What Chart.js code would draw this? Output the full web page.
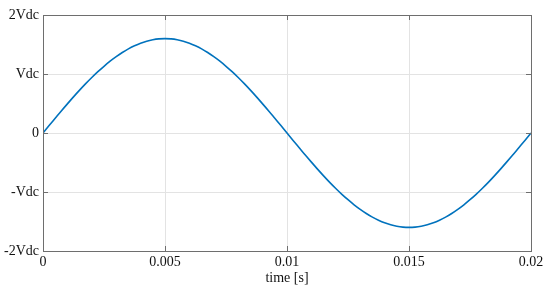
<!DOCTYPE html>
<html><head><meta charset="utf-8">
<script src="https://cdn.jsdelivr.net/npm/chart.js@4/dist/chart.umd.min.js"></script>
<style>html,body{margin:0;padding:0;background:#fff}#wrap{width:550px;height:290px}</style>
</head><body><div id="wrap"><canvas id="c" width="550" height="290"></canvas></div>
<script>
const timeValues = [0,0.00025,0.0005,0.00075,0.001,0.00125,0.0015,0.00175,0.002,0.00225,0.0025,0.00275,0.003,0.00325,0.0035,0.00375,0.004,0.00425,0.0045,0.00475,0.005,0.00525,0.0055,0.00575,0.006,0.00625,0.0065,0.00675,0.007,0.00725,0.0075,0.00775,0.008,0.00825,0.0085,0.00875,0.009,0.00925,0.0095,0.00975,0.01,0.01025,0.0105,0.01075,0.011,0.01125,0.0115,0.01175,0.012,0.01225,0.0125,0.01275,0.013,0.01325,0.0135,0.01375,0.014,0.01425,0.0145,0.01475,0.015,0.01525,0.0155,0.01575,0.016,0.01625,0.0165,0.01675,0.017,0.01725,0.0175,0.01775,0.018,0.01825,0.0185,0.01875,0.019,0.01925,0.0195,0.01975,0.02];
const voltageValues = [0,0.126,0.250,0.374,0.494,0.612,0.726,0.836,0.940,1.039,1.131,1.217,1.294,1.364,1.426,1.478,1.522,1.556,1.580,1.595,1.600,1.595,1.580,1.556,1.522,1.478,1.426,1.364,1.294,1.217,1.131,1.039,0.940,0.836,0.726,0.612,0.494,0.374,0.250,0.126,0,-0.126,-0.250,-0.374,-0.494,-0.612,-0.726,-0.836,-0.940,-1.039,-1.131,-1.217,-1.294,-1.364,-1.426,-1.478,-1.522,-1.556,-1.580,-1.595,-1.600,-1.595,-1.580,-1.556,-1.522,-1.478,-1.426,-1.364,-1.294,-1.217,-1.131,-1.039,-0.940,-0.836,-0.726,-0.612,-0.494,-0.374,-0.250,-0.126,0];
const xTickValues = [0,0.005,0.01,0.015,0.02];
const xTickLabels = ['0','0.005','0.01','0.015','0.02'];
const yTickValues = [-2,-1,0,1,2];
const yTickLabels = ['-2Vdc','-Vdc','0','Vdc','2Vdc'];
const xTitle = 'time [s]';

const FONT = {family:'"Liberation Serif", "Times New Roman", serif', size:14};

const boxPlugin = {
  id:'box',
  afterDraw(chart){
    const {ctx, chartArea:a, scales:{x,y}} = chart;
    ctx.save();
    ctx.strokeStyle = '#6e6e6e';
    ctx.lineWidth = 1;
    ctx.beginPath();
    xTickValues.forEach(v=>{
      const px = Math.round(x.getPixelForValue(v))+0.5;
      ctx.moveTo(px,a.bottom); ctx.lineTo(px,a.bottom-5);
      ctx.moveTo(px,a.top); ctx.lineTo(px,a.top+5);
    });
    yTickValues.forEach(v=>{
      const py = Math.round(y.getPixelForValue(v))+0.5;
      ctx.moveTo(a.left,py); ctx.lineTo(a.left+5,py);
      ctx.moveTo(a.right,py); ctx.lineTo(a.right-5,py);
    });
    ctx.stroke();
    ctx.strokeRect(Math.round(a.left)+0.5, Math.round(a.top)+0.5, Math.round(a.right-a.left), Math.round(a.bottom-a.top));
    ctx.restore();
  }
};

new Chart(document.getElementById('c'), {
  type:'line',
  data:{datasets:[{
    data: timeValues.map((t,i)=>({x:t,y:voltageValues[i]})),
    borderColor:'#0072BD', borderWidth:1.6, pointRadius:0, cubicInterpolationMode:'monotone', fill:false
  }]},
  options:{
    responsive:false, animation:false, devicePixelRatio:1,
    layout:{padding:{left:0,right:19,top:15,bottom:0}},
    plugins:{legend:{display:false}, tooltip:{enabled:false}},
    scales:{
      x:{type:'linear', min:0, max:0.02,
        afterBuildTicks(s){ s.ticks = xTickValues.map(v=>({value:v})); },
        afterFit(s){ s.height = 39; },
        ticks:{callback:(v)=>xTickLabels[xTickValues.indexOf(v)] ?? '', color:'#111', font:FONT, padding:3, maxRotation:0},
        grid:{color:'#e3e3e3', drawTicks:false},
        border:{display:false},
        title:{display:true, text:xTitle, color:'#111', font:FONT, padding:{top:0,bottom:3}}
      },
      y:{type:'linear', min:-2, max:2,
        afterBuildTicks(s){ s.ticks = yTickValues.map(v=>({value:v})); },
        afterFit(s){ s.width = 43; },
        ticks:{callback:(v)=>yTickLabels[yTickValues.indexOf(v)] ?? '', color:'#111', font:FONT, padding:4},
        grid:{color:'#e3e3e3', drawTicks:false},
        border:{display:false}
      }
    }
  },
  plugins:[boxPlugin]
});
</script></body></html>
